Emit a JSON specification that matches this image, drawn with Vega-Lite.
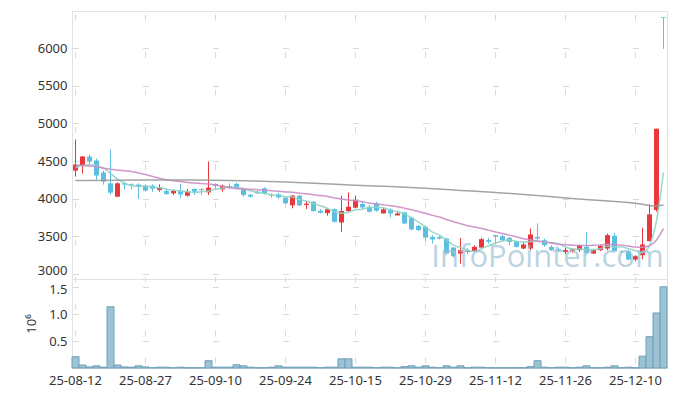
{
  "$schema": "https://vega.github.io/schema/vega-lite/v6.json",
  "padding": {"left": 25, "top": 10, "right": 9, "bottom": 5},
  "bounds": "flush",
  "spacing": 0,
  "config": {
    "font": "Noto Sans",
    "view": {"stroke": "#e2e2e2"},
    "axis": {"labelFont": "Noto Sans", "labelFontSize": 13, "labelColor": "#333333", "ticks": false, "domain": false, "gridColor": "#d9d9d9", "titleFont": "Noto Sans", "titleFontWeight": "normal", "titleColor": "#333333", "titleFontSize": 13}
  },
  "datasets": {
    "candles": [
      {"date": "25-08-12", "open": 4373, "high": 4787, "low": 4293, "close": 4453, "vol": 0.21, "ma5": 4413, "ma20": 4445},
      {"date": "25-08-13", "open": 4440, "high": 4567, "low": 4333, "close": 4560, "vol": 0.055, "ma5": 4440, "ma20": 4440},
      {"date": "25-08-14", "open": 4560, "high": 4587, "low": 4453, "close": 4493, "vol": 0.02, "ma5": 4449, "ma20": 4435},
      {"date": "25-08-18", "open": 4507, "high": 4533, "low": 4253, "close": 4307, "vol": 0.04, "ma5": 4436, "ma20": 4425},
      {"date": "25-08-19", "open": 4347, "high": 4373, "low": 4187, "close": 4227, "vol": 0.015, "ma5": 4408, "ma20": 4405},
      {"date": "25-08-20", "open": 4204, "high": 4653, "low": 4053, "close": 4080, "vol": 1.135, "ma5": 4333, "ma20": 4390},
      {"date": "25-08-21", "open": 4027, "high": 4217, "low": 4020, "close": 4204, "vol": 0.055, "ma5": 4262, "ma20": 4380},
      {"date": "25-08-22", "open": 4204, "high": 4227, "low": 4120, "close": 4187, "vol": 0.02, "ma5": 4201, "ma20": 4370},
      {"date": "25-08-25", "open": 4191, "high": 4204, "low": 4124, "close": 4173, "vol": 0.015, "ma5": 4174, "ma20": 4360},
      {"date": "25-08-26", "open": 4187, "high": 4204, "low": 4000, "close": 4167, "vol": 0.04, "ma5": 4162, "ma20": 4342},
      {"date": "25-08-27", "open": 4173, "high": 4191, "low": 4093, "close": 4107, "vol": 0.02, "ma5": 4168, "ma20": 4322},
      {"date": "25-08-28", "open": 4173, "high": 4191, "low": 4093, "close": 4133, "vol": 0.005, "ma5": 4153, "ma20": 4295},
      {"date": "25-08-29", "open": 4116, "high": 4191, "low": 4093, "close": 4151, "vol": 0.015, "ma5": 4146, "ma20": 4272},
      {"date": "25-09-01", "open": 4102, "high": 4137, "low": 4049, "close": 4062, "vol": 0.015, "ma5": 4124, "ma20": 4252},
      {"date": "25-09-02", "open": 4071, "high": 4124, "low": 4049, "close": 4102, "vol": 0.005, "ma5": 4111, "ma20": 4238},
      {"date": "25-09-03", "open": 4102, "high": 4196, "low": 4004, "close": 4058, "vol": 0.015, "ma5": 4101, "ma20": 4228},
      {"date": "25-09-04", "open": 4040, "high": 4129, "low": 4027, "close": 4093, "vol": 0.005, "ma5": 4093, "ma20": 4216},
      {"date": "25-09-05", "open": 4129, "high": 4137, "low": 4049, "close": 4093, "vol": 0.005, "ma5": 4082, "ma20": 4207},
      {"date": "25-09-08", "open": 4129, "high": 4137, "low": 4049, "close": 4116, "vol": 0.005, "ma5": 4092, "ma20": 4200},
      {"date": "25-09-09", "open": 4084, "high": 4493, "low": 4049, "close": 4147, "vol": 0.135, "ma5": 4101, "ma20": 4196},
      {"date": "25-09-10", "open": 4196, "high": 4204, "low": 4124, "close": 4169, "vol": 0.015, "ma5": 4124, "ma20": 4181},
      {"date": "25-09-11", "open": 4124, "high": 4187, "low": 4093, "close": 4173, "vol": 0.015, "ma5": 4140, "ma20": 4162},
      {"date": "25-09-12", "open": 4169, "high": 4204, "low": 4124, "close": 4151, "vol": 0.015, "ma5": 4151, "ma20": 4145},
      {"date": "25-09-15", "open": 4196, "high": 4213, "low": 4124, "close": 4129, "vol": 0.06, "ma5": 4154, "ma20": 4136},
      {"date": "25-09-16", "open": 4129, "high": 4137, "low": 4027, "close": 4049, "vol": 0.04, "ma5": 4134, "ma20": 4127},
      {"date": "25-09-17", "open": 4053, "high": 4062, "low": 4013, "close": 4027, "vol": 0.015, "ma5": 4106, "ma20": 4125},
      {"date": "25-09-18", "open": 4093, "high": 4107, "low": 4062, "close": 4071, "vol": 0.005, "ma5": 4085, "ma20": 4118},
      {"date": "25-09-19", "open": 4138, "high": 4151, "low": 4058, "close": 4071, "vol": 0.005, "ma5": 4069, "ma20": 4112},
      {"date": "25-09-22", "open": 4044, "high": 4071, "low": 4013, "close": 4036, "vol": 0.015, "ma5": 4051, "ma20": 4105},
      {"date": "25-09-23", "open": 4058, "high": 4080, "low": 3996, "close": 4018, "vol": 0.04, "ma5": 4045, "ma20": 4098},
      {"date": "25-09-24", "open": 4013, "high": 4027, "low": 3929, "close": 3938, "vol": 0.015, "ma5": 4027, "ma20": 4089},
      {"date": "25-09-25", "open": 3911, "high": 4049, "low": 3871, "close": 4040, "vol": 0.015, "ma5": 4021, "ma20": 4085},
      {"date": "25-09-26", "open": 4040, "high": 4049, "low": 3902, "close": 3911, "vol": 0.015, "ma5": 3989, "ma20": 4073},
      {"date": "25-09-29", "open": 3916, "high": 3969, "low": 3862, "close": 3933, "vol": 0.015, "ma5": 3968, "ma20": 4066},
      {"date": "25-09-30", "open": 3960, "high": 3969, "low": 3827, "close": 3836, "vol": 0.015, "ma5": 3932, "ma20": 4053},
      {"date": "25-10-01", "open": 3840, "high": 3862, "low": 3804, "close": 3813, "vol": 0.005, "ma5": 3907, "ma20": 4041},
      {"date": "25-10-02", "open": 3809, "high": 3871, "low": 3773, "close": 3858, "vol": 0.015, "ma5": 3870, "ma20": 4029},
      {"date": "25-10-10", "open": 3862, "high": 3871, "low": 3684, "close": 3693, "vol": 0.015, "ma5": 3827, "ma20": 4009},
      {"date": "25-10-13", "open": 3684, "high": 4040, "low": 3560, "close": 3836, "vol": 0.17, "ma5": 3807, "ma20": 3995},
      {"date": "25-10-14", "open": 3836, "high": 4084, "low": 3818, "close": 3893, "vol": 0.17, "ma5": 3819, "ma20": 3982},
      {"date": "25-10-15", "open": 3880, "high": 4040, "low": 3871, "close": 3982, "vol": 0.015, "ma5": 3852, "ma20": 3973},
      {"date": "25-10-16", "open": 3929, "high": 3960, "low": 3862, "close": 3884, "vol": 0.015, "ma5": 3858, "ma20": 3958},
      {"date": "25-10-17", "open": 3893, "high": 3916, "low": 3818, "close": 3827, "vol": 0.015, "ma5": 3884, "ma20": 3942},
      {"date": "25-10-20", "open": 3938, "high": 3960, "low": 3827, "close": 3840, "vol": 0.005, "ma5": 3885, "ma20": 3928},
      {"date": "25-10-21", "open": 3804, "high": 3884, "low": 3804, "close": 3858, "vol": 0.015, "ma5": 3878, "ma20": 3918},
      {"date": "25-10-22", "open": 3858, "high": 3871, "low": 3751, "close": 3804, "vol": 0.015, "ma5": 3843, "ma20": 3907},
      {"date": "25-10-23", "open": 3778, "high": 3840, "low": 3778, "close": 3804, "vol": 0.005, "ma5": 3827, "ma20": 3894},
      {"date": "25-10-24", "open": 3818, "high": 3827, "low": 3662, "close": 3671, "vol": 0.025, "ma5": 3795, "ma20": 3874},
      {"date": "25-10-27", "open": 3751, "high": 3760, "low": 3582, "close": 3591, "vol": 0.04, "ma5": 3746, "ma20": 3852},
      {"date": "25-10-28", "open": 3640, "high": 3649, "low": 3573, "close": 3582, "vol": 0.015, "ma5": 3690, "ma20": 3830},
      {"date": "25-10-29", "open": 3627, "high": 3640, "low": 3440, "close": 3484, "vol": 0.04, "ma5": 3626, "ma20": 3807},
      {"date": "25-10-30", "open": 3493, "high": 3516, "low": 3404, "close": 3458, "vol": 0.015, "ma5": 3557, "ma20": 3778},
      {"date": "25-10-31", "open": 3493, "high": 3502, "low": 3458, "close": 3471, "vol": 0.005, "ma5": 3517, "ma20": 3756},
      {"date": "25-11-03", "open": 3471, "high": 3480, "low": 3260, "close": 3271, "vol": 0.04, "ma5": 3453, "ma20": 3723},
      {"date": "25-11-04", "open": 3350, "high": 3360, "low": 3220, "close": 3236, "vol": 0.015, "ma5": 3384, "ma20": 3693},
      {"date": "25-11-05", "open": 3271, "high": 3480, "low": 3138, "close": 3316, "vol": 0.04, "ma5": 3350, "ma20": 3668},
      {"date": "25-11-06", "open": 3293, "high": 3338, "low": 3271, "close": 3307, "vol": 0.005, "ma5": 3320, "ma20": 3640},
      {"date": "25-11-07", "open": 3307, "high": 3382, "low": 3293, "close": 3360, "vol": 0.015, "ma5": 3298, "ma20": 3624},
      {"date": "25-11-10", "open": 3351, "high": 3480, "low": 3338, "close": 3462, "vol": 0.015, "ma5": 3336, "ma20": 3605},
      {"date": "25-11-11", "open": 3449, "high": 3480, "low": 3404, "close": 3427, "vol": 0.005, "ma5": 3374, "ma20": 3582},
      {"date": "25-11-12", "open": 3516, "high": 3520, "low": 3404, "close": 3498, "vol": 0.005, "ma5": 3411, "ma20": 3558},
      {"date": "25-11-13", "open": 3502, "high": 3520, "low": 3440, "close": 3449, "vol": 0.005, "ma5": 3439, "ma20": 3536},
      {"date": "25-11-14", "open": 3480, "high": 3493, "low": 3382, "close": 3427, "vol": 0.005, "ma5": 3453, "ma20": 3516},
      {"date": "25-11-17", "open": 3427, "high": 3440, "low": 3351, "close": 3360, "vol": 0.005, "ma5": 3432, "ma20": 3492},
      {"date": "25-11-18", "open": 3338, "high": 3418, "low": 3329, "close": 3391, "vol": 0.005, "ma5": 3425, "ma20": 3468},
      {"date": "25-11-19", "open": 3338, "high": 3604, "low": 3316, "close": 3524, "vol": 0.025, "ma5": 3430, "ma20": 3454},
      {"date": "25-11-20", "open": 3493, "high": 3671, "low": 3449, "close": 3471, "vol": 0.135, "ma5": 3435, "ma20": 3438},
      {"date": "25-11-21", "open": 3449, "high": 3471, "low": 3360, "close": 3382, "vol": 0.015, "ma5": 3426, "ma20": 3423},
      {"date": "25-11-24", "open": 3360, "high": 3382, "low": 3307, "close": 3316, "vol": 0.005, "ma5": 3417, "ma20": 3410},
      {"date": "25-11-25", "open": 3329, "high": 3351, "low": 3289, "close": 3311, "vol": 0.015, "ma5": 3401, "ma20": 3396},
      {"date": "25-11-26", "open": 3293, "high": 3347, "low": 3258, "close": 3316, "vol": 0.015, "ma5": 3359, "ma20": 3388},
      {"date": "25-11-27", "open": 3302, "high": 3338, "low": 3280, "close": 3329, "vol": 0.005, "ma5": 3331, "ma20": 3381},
      {"date": "25-11-28", "open": 3316, "high": 3391, "low": 3293, "close": 3382, "vol": 0.015, "ma5": 3331, "ma20": 3377},
      {"date": "25-12-01", "open": 3360, "high": 3560, "low": 3271, "close": 3280, "vol": 0.04, "ma5": 3324, "ma20": 3377},
      {"date": "25-12-02", "open": 3271, "high": 3324, "low": 3262, "close": 3316, "vol": 0.005, "ma5": 3325, "ma20": 3381},
      {"date": "25-12-03", "open": 3316, "high": 3391, "low": 3307, "close": 3373, "vol": 0.005, "ma5": 3336, "ma20": 3384},
      {"date": "25-12-04", "open": 3338, "high": 3538, "low": 3316, "close": 3516, "vol": 0.015, "ma5": 3373, "ma20": 3395},
      {"date": "25-12-05", "open": 3507, "high": 3547, "low": 3293, "close": 3302, "vol": 0.04, "ma5": 3357, "ma20": 3392},
      {"date": "25-12-08", "open": 3302, "high": 3310, "low": 3280, "close": 3293, "vol": 0.005, "ma5": 3360, "ma20": 3383},
      {"date": "25-12-09", "open": 3302, "high": 3316, "low": 3182, "close": 3191, "vol": 0.015, "ma5": 3335, "ma20": 3371},
      {"date": "25-12-10", "open": 3191, "high": 3249, "low": 3169, "close": 3236, "vol": 0.005, "ma5": 3308, "ma20": 3358},
      {"date": "25-12-11", "open": 3249, "high": 3613, "low": 3196, "close": 3391, "vol": 0.22, "ma5": 3283, "ma20": 3355},
      {"date": "25-12-12", "open": 3436, "high": 3924, "low": 3436, "close": 3791, "vol": 0.58, "ma5": 3380, "ma20": 3374},
      {"date": "25-12-15", "open": 3849, "high": 4929, "low": 3827, "close": 4929, "vol": 1.02, "ma5": 3708, "ma20": 3452},
      {"date": "25-12-16", "open": 6410, "high": 6410, "low": 5990, "close": 6400, "vol": 1.505, "ma5": 4349, "ma20": 3602}
    ],
    "ma60": [
      {"date": "25-08-12", "ma60": 4240},
      {"date": "25-08-27", "ma60": 4248},
      {"date": "25-09-10", "ma60": 4245},
      {"date": "25-09-17", "ma60": 4236},
      {"date": "25-09-24", "ma60": 4222},
      {"date": "25-10-01", "ma60": 4202},
      {"date": "25-10-15", "ma60": 4178},
      {"date": "25-10-22", "ma60": 4162},
      {"date": "25-10-29", "ma60": 4140},
      {"date": "25-11-05", "ma60": 4110},
      {"date": "25-11-12", "ma60": 4082},
      {"date": "25-11-19", "ma60": 4050},
      {"date": "25-11-26", "ma60": 4010},
      {"date": "25-12-03", "ma60": 3975},
      {"date": "25-12-10", "ma60": 3938},
      {"date": "25-12-15", "ma60": 3902},
      {"date": "25-12-16", "ma60": 3915}
    ]
  },
  "vconcat": [
    {
      "width": 595,
      "height": 268,
      "data": {"name": "candles"},
      "encoding": {
        "x": {"field": "date", "type": "ordinal", "scale": {"paddingInner": 0, "paddingOuter": 0},
          "axis": {"values": ["25-08-12", "25-08-27", "25-09-10", "25-09-24", "25-10-15", "25-10-29", "25-11-12", "25-11-26", "25-12-10"], "labels": false, "title": null, "grid": true, "gridDash": [6, 31.5], "gridDashOffset": 34.5, "minExtent": 0, "maxExtent": 0}}
      },
      "layer": [
        {
          "mark": {"type": "rule", "strokeWidth": 1},
          "encoding": {
            "y": {"field": "low", "type": "quantitative", "scale": {"domain": [2933, 6493], "nice": false, "zero": false},
              "axis": {"values": [3000, 3500, 4000, 4500, 5000, 5500, 6000], "format": "d", "title": null, "labelPadding": 5, "labelOffset": {"condition": {"test": "datum.value === 3000", "value": -3}, "value": 0}, "grid": true, "gridDash": [6, 64], "gridDashOffset": 69.5}},
            "y2": {"field": "high"},
            "color": {"condition": {"test": "datum.close > datum.open", "value": "#e9383b"}, "value": "#5cbfe0"}
          }
        },
        {
          "mark": {"type": "bar", "size": 5},
          "encoding": {
            "y": {"field": "open", "type": "quantitative"},
            "y2": {"field": "close"},
            "color": {"condition": {"test": "datum.close > datum.open", "value": "#e9383b"}, "value": "#5cbfe0"}
          }
        },
        {
          "mark": {"type": "line", "interpolate": "monotone", "color": "#8fd4c4", "strokeWidth": 1.5, "opacity": 0.9},
          "encoding": {"y": {"field": "ma5", "type": "quantitative"}}
        },
        {
          "mark": {"type": "line", "interpolate": "monotone", "color": "#cc8cc4", "strokeWidth": 1.5, "opacity": 0.9},
          "encoding": {"y": {"field": "ma20", "type": "quantitative"}}
        },
        {
          "data": {"name": "ma60"},
          "mark": {"type": "line", "interpolate": "monotone", "color": "#9a9a9a", "strokeWidth": 1.5, "opacity": 0.9},
          "encoding": {"y": {"field": "ma60", "type": "quantitative"}}
        },
        {
          "data": {"values": [{"date": "25-11-20", "price": 3213, "label": "InfoPointer.com"}]},
          "mark": {"type": "text", "font": "Open Sans", "fontSize": 31, "color": "#9fc3d6", "opacity": 0.7, "align": "center", "baseline": "middle", "dx": 10},
          "encoding": {"y": {"field": "price", "type": "quantitative"}, "text": {"field": "label"}}
        }
      ]
    },
    {
      "width": 595,
      "height": 89,
      "data": {"name": "candles"},
      "mark": {"type": "bar", "fill": "#9cc3d5", "stroke": "#6f9fb7", "strokeWidth": 1},
      "encoding": {
        "x": {"field": "date", "type": "ordinal", "scale": {"paddingInner": 0, "paddingOuter": 0},
          "axis": {"values": ["25-08-12", "25-08-27", "25-09-10", "25-09-24", "25-10-15", "25-10-29", "25-11-12", "25-11-26", "25-12-10"], "labelAngle": 0, "labelPadding": 6, "title": null, "grid": true, "gridDash": [6, 21], "gridDashOffset": 3}},
        "y": {"field": "vol", "type": "quantitative", "scale": {"domain": [0, 1.65], "nice": false},
          "axis": {"values": [0.5, 1.0, 1.5], "format": ".1f", "title": "10⁶", "titlePadding": 10, "labelPadding": 5, "labelOffset": {"condition": {"test": "datum.value === 1.5", "value": 2}, "value": 0}, "grid": true, "gridDash": [6, 64], "gridDashOffset": 69.5}}
      }
    }
  ]
}
